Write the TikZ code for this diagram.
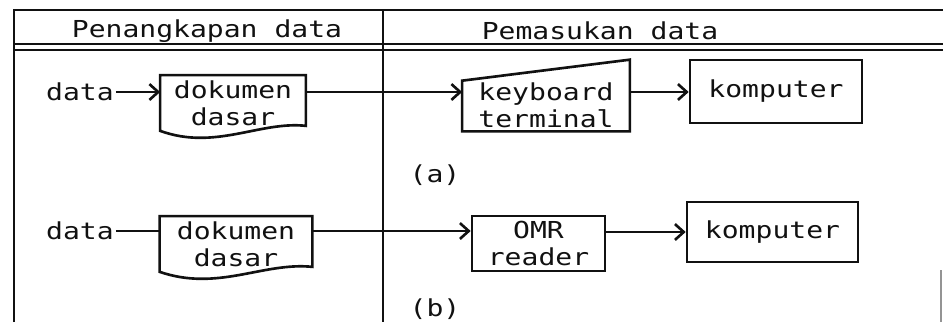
\documentclass[tikz,border=0pt]{standalone}
\usepackage{fontspec}
\setmonofont[FakeStretch=1.2]{DejaVu Sans Mono}
\usetikzlibrary{arrows.meta, positioning, calc}
\definecolor{tinta}{HTML}{111111}
\tikzset{
  teks/.style={font=\ttfamily\fontsize{13.3}{15.5}\selectfont, text=tinta, inner sep=1pt},
  dok/.style={teks, rectangle, minimum width=2.9cm, minimum height=1.1cm, align=center},
  kotak/.style={teks, rectangle, draw=tinta, line width=1.5pt, align=center},
  garis/.style={line width=1.5pt, color=tinta},
  tabel/.style={line width=1.6pt, color=tinta},
  arrow/.style={garis, ->, >={Straight Barb[length=5pt,width=9pt]}}
}

\begin{document}
\begin{tikzpicture}[x=0.02cm, y=-0.02cm]
  \useasboundingbox (0,0) rectangle (943,322);
  % tabel
  \draw [tabel] (14,322) -- (14,10) -- (943,10);
  \draw [tabel] (383,10) -- (383,322);
  \draw [tabel] (14,44) -- (943,44);
  \draw [tabel] (14,50) -- (943,50);
  \draw [garis, line width=0.8pt, tinta!45] (941,270) -- (941,322);
  \node (hkiri) [teks] at (207,31) {Penangkapan data};
  \node (hkanan) [teks] at (600,31) {Pemasukan data};

  % (a)
  \node (dataA) [teks] at (80,92) {data};
  \node (dokA) [dok] at (233,103) {dokumen\\ dasar};
  \node (kbA) [teks, minimum width=3.34cm, minimum height=1.04cm, align=center] at (546,105) {keyboard\\ terminal};
  \node (kompA) [kotak, minimum width=3.44cm, minimum height=1.26cm] at (776,91.5) {komputer};
  \node (labA) [teks] at (435,175) {(a)};
  \draw [garis] (kbA.south west) -- ($(kbA.north west)+(0,2)$) -- ($(kbA.north east)+(0,-19)$) -- (kbA.south east) -- cycle;
  \draw [arrow] (dataA.east) -- (dataA -| dokA.west);
  \draw [arrow] (dokA.east |- dataA) -- (kbA.west |- dataA);
  \draw [arrow] (kbA.east |- dataA) -- (kompA.west |- dataA);

  % (b)
  \node (dataB) [teks] at (80,231) {data};
  \node (dokB) [dok, minimum width=3.04cm] at (236,244) {dokumen\\ dasar};
  \node (omrB) [kotak, minimum width=2.66cm, minimum height=1.1cm] at (538.5,243.5) {OMR\\ reader};
  \node (kompB) [kotak, minimum width=3.42cm, minimum height=1.2cm] at (772.5,232) {komputer};
  \node (labB) [teks] at (435,309) {(b)};
  \draw [garis] (dataB.east) -- (dataB -| dokB.west);
  \draw [arrow] (dokB.east |- dataB) -- (omrB.west |- dataB);
  \draw [arrow] (omrB.east |- kompB) -- (kompB.west);

  % bentuk dokumen
  \foreach \d in {dokA, dokB}
    \draw [garis] (\d.south west) -- (\d.north west) -- (\d.north east) -- ($(\d.south east)+(0,-5)$)
      .. controls ($(\d.south)+(27,-10)$) and ($(\d.south)+(-18,20)$) .. (\d.south west) -- cycle;
\end{tikzpicture}
\end{document}
